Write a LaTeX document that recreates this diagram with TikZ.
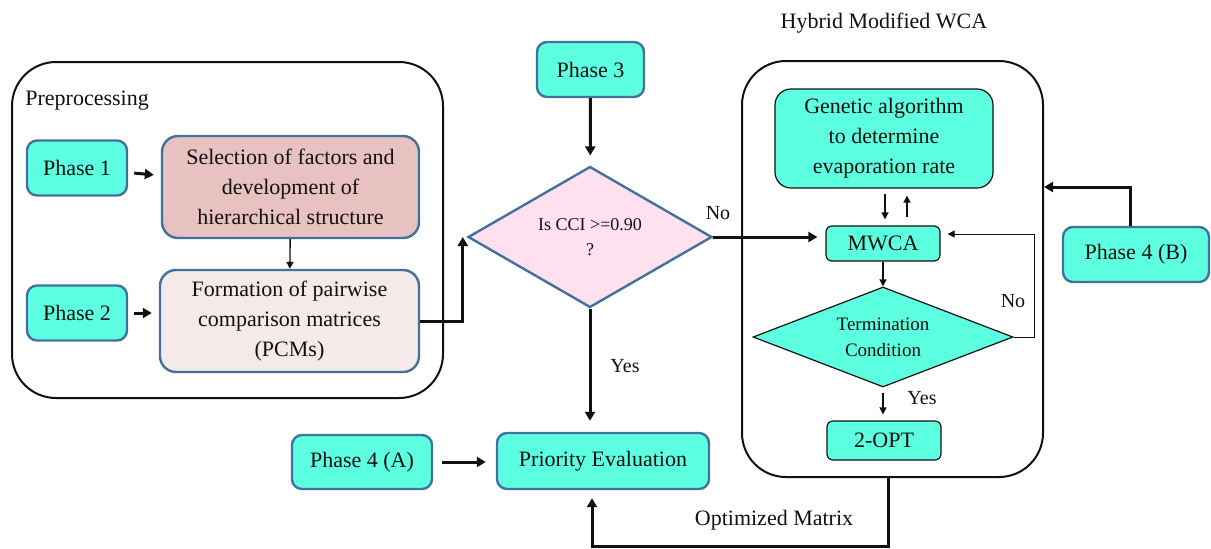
\documentclass[tikz,border=0pt]{standalone}
\usepackage{fontspec}
\setmainfont{Liberation Serif}
\usepackage{xcolor}
\usepackage{tikz}
\usetikzlibrary{arrows.meta,positioning,calc,shapes.geometric}
\definecolor{aq}{HTML}{5CFFDF}
\definecolor{bd}{HTML}{41719C}
\definecolor{sl}{HTML}{E8C2C1}
\definecolor{fm}{HTML}{F5E9E9}
\definecolor{dm}{HTML}{FFE0EF}
\definecolor{tx}{HTML}{111111}

\begin{document}
\begin{tikzpicture}[x=0.5pt,y=-0.5pt,
  every node/.style={font=\fontsize{11}{15}\selectfont, text=tx},
  lbl/.style={inner sep=0pt},
  yn/.style={inner sep=0pt, font=\fontsize{10}{12}\selectfont},
  frame/.style={draw=tx, line width=1pt, rounded corners=22pt},
  phase/.style={draw=bd, line width=1.2pt, fill=aq, rounded corners=5pt,
    minimum width=50pt, minimum height=27.5pt, inner sep=2pt},
  proc/.style={draw=bd, line width=1.2pt, rounded corners=8pt, align=center, inner sep=2pt},
  aqbox/.style={draw=tx, line width=0.6pt, fill=aq, rounded corners=3pt, align=center, inner sep=2pt},
  dec/.style={diamond, align=center, inner sep=0pt, shape aspect=2},
  big/.style={-{Triangle[length=4.5pt,width=5pt]}, line width=1.5pt, draw=tx},
  small/.style={-{Triangle[length=3.5pt,width=3.5pt]}, line width=0.7pt, draw=tx}]
  \useasboundingbox (0,0) rectangle (1211,548);

  \node[frame, minimum width=215.5pt, minimum height=168pt] (pre) at (227.5,230) {};
  \node[lbl, anchor=west] (prelbl) at (25,101) {Preprocessing};
  \node[phase] (p1) at (77,168) {Phase 1};
  \node[phase] (p2) at (77,313) {Phase 2};
  \node[proc, fill=sl, minimum width=128.5pt, minimum height=51pt] (sel) at (290.5,187)
    {Selection of factors and\\development of\\hierarchical structure};
  \node[proc, fill=fm, minimum width=129.5pt, minimum height=51pt] (form) at (289.5,321)
    {Formation of pairwise\\comparison matrices\\(PCMs)};

  \node[phase, minimum width=53.5pt] (p3) at (590.5,69.5) {Phase 3};
  \node[dec, draw=bd, line width=1.2pt, fill=dm, minimum width=122pt, minimum height=70.5pt,
    font=\fontsize{9}{12.5}\selectfont] (cci) at (590,237) {Is CCI >=0.90\\?};
  \node[phase, minimum width=70pt, minimum height=27pt] (p4a) at (362,462) {Phase 4 (A)};
  \node[phase, minimum width=106pt, minimum height=28pt] (prio) at (603,461) {Priority Evaluation};

  \node[frame, minimum width=150.5pt, minimum height=208pt] (hyb) at (892.5,269) {};
  \node[lbl] (hyblbl) at (884,23) {Hybrid Modified WCA};
  \node[aqbox, rounded corners=8pt, minimum width=109pt, minimum height=49.5pt] (ga) at (884,138.5)
    {Genetic algorithm\\to determine\\evaporation rate};
  \node[aqbox, minimum width=57pt, minimum height=17.5pt] (mwca) at (883,243.5) {MWCA};
  \node[dec, draw=tx, line width=0.6pt, fill=aq, minimum width=130pt, minimum height=50pt,
    font=\fontsize{9.5}{13}\selectfont] (term) at (883,337) {Termination\\Condition};
  \node[aqbox, minimum width=57pt, minimum height=19.5pt] (opt) at (884,440.5) {2-OPT};
  \node[phase, minimum width=73pt] (p4b) at (1136,254.5) {Phase 4 (B)};

  \draw[big, shorten <=3pt, shorten >=3.5pt] (p1) -- (sel);
  \draw[big, shorten <=3pt, shorten >=3.5pt] (p2) -- (p2 -| form.west);
  \draw[small] (sel) -- (form);
  \draw[big] (form.east) -| ($(cci.west)+(-4,0)$);
  \draw[big, shorten >=5pt] (p3) -- (cci);
  \draw[big, shorten >=4pt] (cci.east) -- (cci.east -| mwca.west);
  \node[yn] (no1) at (718,213) {No};
  \draw[big, shorten >=5.5pt] (cci.south) -- (cci.south |- prio.north);
  \node[yn] (yes1) at (625,366) {Yes};
  \draw[big, shorten <=4.5pt, shorten >=5pt] (p4a) -- (p4a -| prio.west);

  \draw[small, shorten <=2.5pt, shorten >=3pt] ([xshift=0.5pt]ga.south) -- ([xshift=0.5pt]ga.south |- mwca.north);
  \draw[small, shorten <=4pt, shorten >=3.5pt] ([xshift=12pt]mwca.north) -- ([xshift=12pt]mwca.north |- ga.south);
  \draw[small] (mwca) -- (term);
  \draw[small, shorten <=2.5pt, shorten >=3pt] (term.south) -- (term.south |- opt.north);
  \node[yn] (yes2) at (922,398) {Yes};
  \draw[small, line width=0.5pt, shorten >=3.5pt] (term.east) -- ++(21,0) |- ([yshift=4.75pt]mwca.east);
  \node[yn] (no2) at (1013,301) {No};
  \draw[big] ([xshift=-3pt]p4b.north) |- ([yshift=41pt]hyb.east);

  \coordinate (bot) at (888,546);
  \draw[big, shorten >=4pt] (hyb.south -| bot) -- (bot) -| ([xshift=-5.5pt]prio.south);
  \node[lbl] (optm) at (774,520) {Optimized Matrix};
\end{tikzpicture}
\end{document}
